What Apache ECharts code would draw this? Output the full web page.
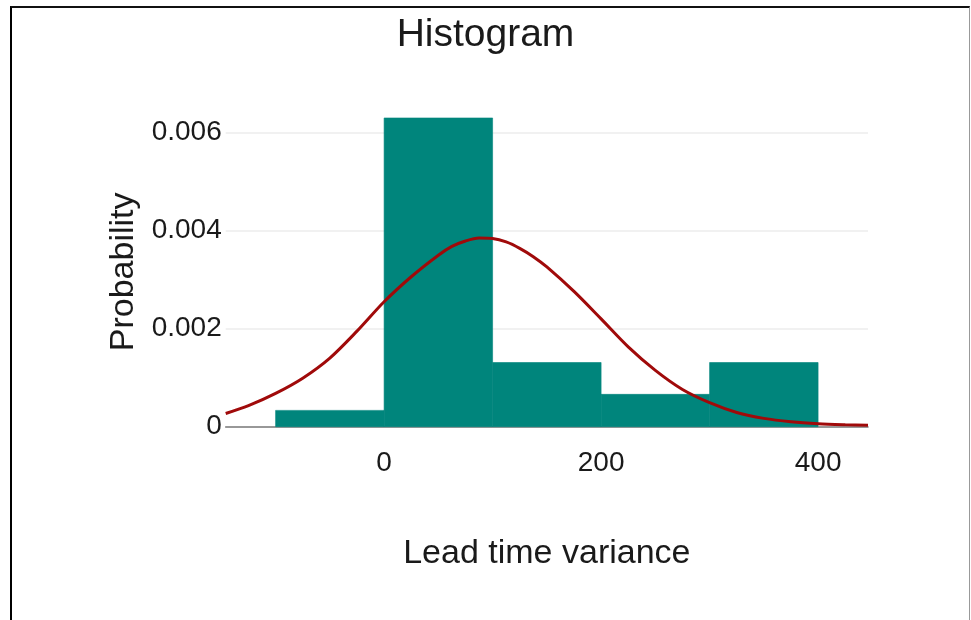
<!DOCTYPE html>
<html>
<head>
<meta charset="utf-8">
<script src="https://cdn.jsdelivr.net/npm/echarts@6/dist/echarts.min.js"></script>
<style>
  html, body { margin: 0; padding: 0; background: #fff; }
  #frame { position: absolute; left: 10px; top: 6px; width: 957px; height: 700px;
           border-left: 2px solid #000; border-top: 2px solid #111; border-right: 1px solid #999; }
  #chart { position: absolute; left: 0; top: 0; width: 971px; height: 620px; }
</style>
</head>
<body>
<div id="frame"></div>
<div id="chart"></div>
<script>
// Histogram bins (Lead time variance) and probability density
var binStart = [-100, 0, 100, 200, 300];
var binEnd = [0, 100, 200, 300, 400];
var probability = [0.000333, 0.0063, 0.00131, 0.00066, 0.00131];

// Fitted normal curve
var curveX = [-146, -125, -100, -75, -50, -25, 0, 25, 50, 62.5, 75, 87.5, 100, 112.5, 125, 137.5, 150, 175, 200, 225, 250, 275, 300, 325, 350, 375, 400, 425, 446];
var curveY = [0.00027, 0.00043, 0.00068, 0.00099, 0.00140, 0.00195, 0.00255, 0.00306, 0.00350, 0.00368, 0.00379, 0.00385, 0.00384, 0.00377, 0.00364, 0.00347, 0.00326, 0.00276, 0.00220, 0.00163, 0.00115, 0.00076, 0.00049, 0.00029, 0.00017, 0.00010, 0.00006, 0.00004, 0.00003];

// Axis ticks
var xTicks = [0, 200, 400];
var yTicks = [0, 0.002, 0.004, 0.006];

var FONT = '"Liberation Sans", Arial, sans-serif';

var histData = binStart.map(function (s, i) { return [s, binEnd[i], probability[i]]; });
var curveData = curveX.map(function (x, i) { return [x, curveY[i]]; });

var chart = echarts.init(document.getElementById('chart'), null, { renderer: 'canvas' });
chart.setOption({
  backgroundColor: 'transparent',
  animation: false,
  title: {
    text: 'Histogram',
    left: 'center',
    top: 11,
    textStyle: { fontFamily: FONT, fontSize: 39, fontWeight: 'normal', color: '#1a1a1a' }
  },
  grid: { left: 225.7, right: 103, top: 117, bottom: 193.3, containLabel: false },
  xAxis: {
    type: 'value',
    min: -146,
    max: 446,
    name: 'Lead time variance',
    nameLocation: 'middle',
    nameGap: 110,
    nameTextStyle: { fontFamily: FONT, fontSize: 34, color: '#1a1a1a' },
    axisLine: { show: true, onZero: false, lineStyle: { color: '#777', width: 1.5 } },
    axisTick: { show: false },
    splitLine: { show: false },
    axisLabel: {
      customValues: xTicks,
      margin: 23,
      fontFamily: FONT, fontSize: 28, color: '#1a1a1a'
    }
  },
  yAxis: {
    type: 'value',
    min: 0,
    max: 0.00632,
    interval: 0.002,
    name: 'Probability',
    nameLocation: 'middle',
    nameGap: 80,
    nameTextStyle: { fontFamily: FONT, fontSize: 34, color: '#1a1a1a' },
    axisLine: { show: false },
    axisTick: { show: false },
    splitLine: {
      show: true,
      lineStyle: { color: ['transparent', '#ececec', '#ececec', '#ececec', 'transparent'], width: 1.5 }
    },
    axisLabel: {
      customValues: yTicks,
      margin: 4,
      fontFamily: FONT, fontSize: 28, color: '#1a1a1a',
      formatter: function (v) { return v === 0 ? '0' : v.toFixed(3); }
    }
  },
  series: [
    {
      type: 'custom',
      name: 'Histogram',
      data: histData,
      encode: { x: [0, 1], y: 2 },
      z: 2,
      renderItem: function (params, api) {
        var p0 = api.coord([api.value(0), api.value(2)]);
        var p1 = api.coord([api.value(1), 0]);
        return {
          type: 'rect',
          shape: { x: p0[0], y: p0[1], width: p1[0] - p0[0], height: p1[1] - p0[1] },
          style: { fill: '#00857c', stroke: '#00857c', lineWidth: 0.6 }
        };
      }
    },
    {
      type: 'line',
      name: 'Normal',
      data: curveData,
      smooth: 0.3,
      showSymbol: false,
      symbol: 'none',
      z: 3,
      lineStyle: { color: '#a00a0a', width: 3 }
    }
  ]
});
</script>
</body>
</html>
